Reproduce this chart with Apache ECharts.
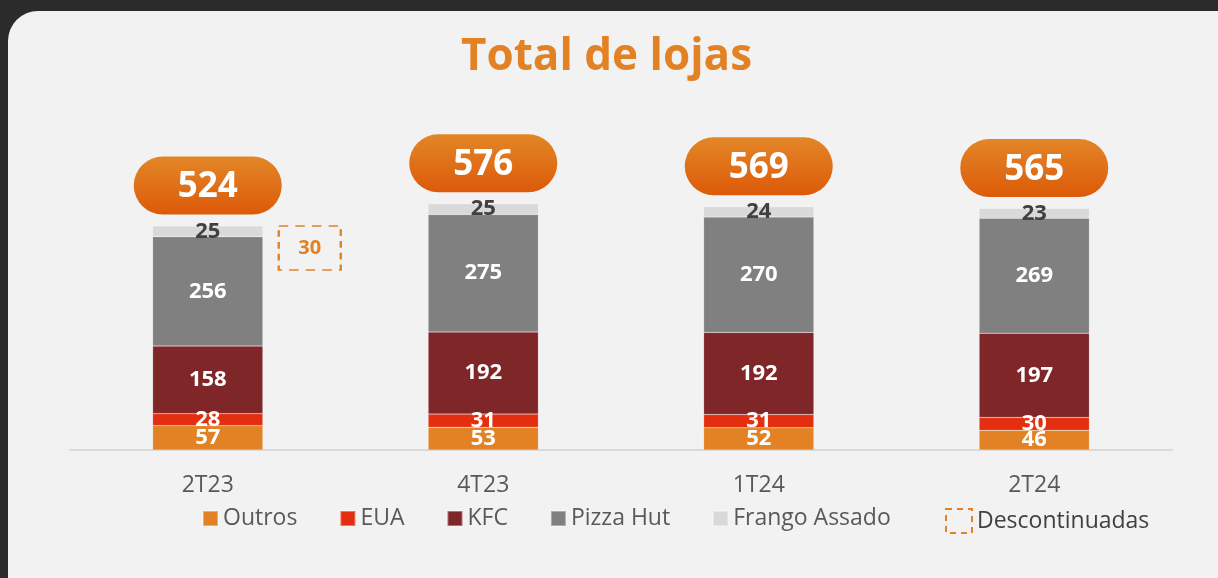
<!DOCTYPE html>
<html>
<head>
<meta charset="utf-8">
<style>
  html, body { margin: 0; padding: 0; background: #2b2b2b; }
  #chart { width: 1218px; height: 578px; }
</style>
<script src="https://cdn.jsdelivr.net/npm/echarts@6/dist/echarts.min.js"></script>
</head>
<body>
<div id="chart"></div>
<script>
var categories = ['2T23', '4T23', '1T24', '2T24'];
var outros = [57, 53, 52, 46];
var eua = [28, 31, 31, 30];
var kfc = [158, 192, 192, 197];
var pizzaHut = [256, 275, 270, 269];
var frangoAssado = [25, 25, 24, 23];
var totals = [524, 576, 569, 565];
var descontinuadas = [30];

var FONT = 'Open Sans';
var ORANGE = '#e38224';

var myChart = echarts.init(document.getElementById('chart'));

function stackBar(name, data, color, labelColor) {
    return {
        name: name,
        type: 'bar',
        stack: 'lojas',
        barWidth: '40%',
        data: data,
        itemStyle: { color: color, borderColor: 'rgba(255,255,255,0.35)', borderWidth: 0.5 },
        label: {
            show: true,
            position: 'inside',
            color: labelColor || '#ffffff',
            fontFamily: FONT,
            fontWeight: 'bold',
            fontSize: 22
        },
        emphasis: { disabled: true }
    };
}

var option = {
    backgroundColor: '#2b2b2b',
    animation: false,
    graphic: [{
        type: 'rect',
        z: -10,
        shape: { x: 8, y: 11, width: 1260, height: 620, r: 30 },
        style: { fill: '#f2f2f2' }
    }],
    title: {
        text: 'Total de lojas',
        left: 456,
        top: 30,
        textStyle: { color: ORANGE, fontFamily: FONT, fontWeight: 'bold', fontSize: 44 }
    },
    legend: [{
        data: ['Outros', 'EUA', 'KFC', 'Pizza Hut', 'Frango Assado'],
        left: 197,
        top: 502,
        icon: 'rect',
        itemWidth: 15,
        itemHeight: 15,
        itemGap: 42,
        textStyle: { color: '#595959', fontFamily: FONT, fontSize: 23 }
    }, {
        data: [{
            name: 'Descontinuadas',
            icon: 'rect',
            itemStyle: { color: 'rgba(0,0,0,0)', borderColor: ORANGE, borderWidth: 2, borderType: [6, 5], opacity: 1 }
        }],
        left: 940,
        top: 503,
        itemWidth: 26,
        itemHeight: 24,
        textStyle: { color: '#404040', fontFamily: FONT, fontSize: 23 }
    }],
    grid: { left: 70, right: 46, top: 193.5, bottom: 128 },
    xAxis: {
        type: 'category',
        data: categories,
        axisLine: { lineStyle: { color: '#d9d9d9', width: 2 } },
        axisTick: { show: false },
        axisLabel: { color: '#595959', fontFamily: FONT, fontSize: 23, margin: 24 }
    },
    yAxis: { type: 'value', min: 0, max: 600, show: false, splitLine: { show: false } },
    series: [
        stackBar('Outros', outros, '#e38224'),
        stackBar('EUA', eua, '#e32e10'),
        stackBar('KFC', kfc, '#7f2628'),
        stackBar('Pizza Hut', pizzaHut, '#808080'),
        stackBar('Frango Assado', frangoAssado, '#d9d9d9', '#404040'),
        {
            name: 'Total',
            type: 'scatter',
            symbolSize: 1,
            itemStyle: { color: 'rgba(0,0,0,0)', opacity: 1 },
            data: totals,
            label: {
                show: true,
                position: 'top',
                distance: 11,
                color: '#ffffff',
                fontFamily: FONT,
                fontWeight: 'bold',
                fontSize: 35,
                width: 148,
                height: 54,
                lineHeight: 54,
                padding: [4, 0, 0, 0],
                align: 'center',
                borderRadius: 29,
                backgroundColor: {
                    type: 'linear', x: 0, y: 0, x2: 0, y2: 1,
                    colorStops: [{ offset: 0, color: '#e38628' }, { offset: 1, color: '#dc5a09' }]
                }
            },
            emphasis: { disabled: true }
        },
        {
            name: 'Descontinuadas',
            type: 'scatter',
            symbol: 'rect',
            symbolSize: [62, 44],
            symbolOffset: [102, 22],
            data: [[0, totals[0]]],
            itemStyle: { color: 'rgba(0,0,0,0)', borderColor: ORANGE, borderWidth: 2, borderType: [8, 6], opacity: 1 },
            label: {
                show: true,
                position: 'inside',
                formatter: function () { return String(descontinuadas[0]); },
                color: ORANGE,
                fontFamily: FONT,
                fontWeight: 'bold',
                fontSize: 20
            },
            emphasis: { disabled: true }
        }
    ]
};

myChart.setOption(option);
</script>
</body>
</html>
